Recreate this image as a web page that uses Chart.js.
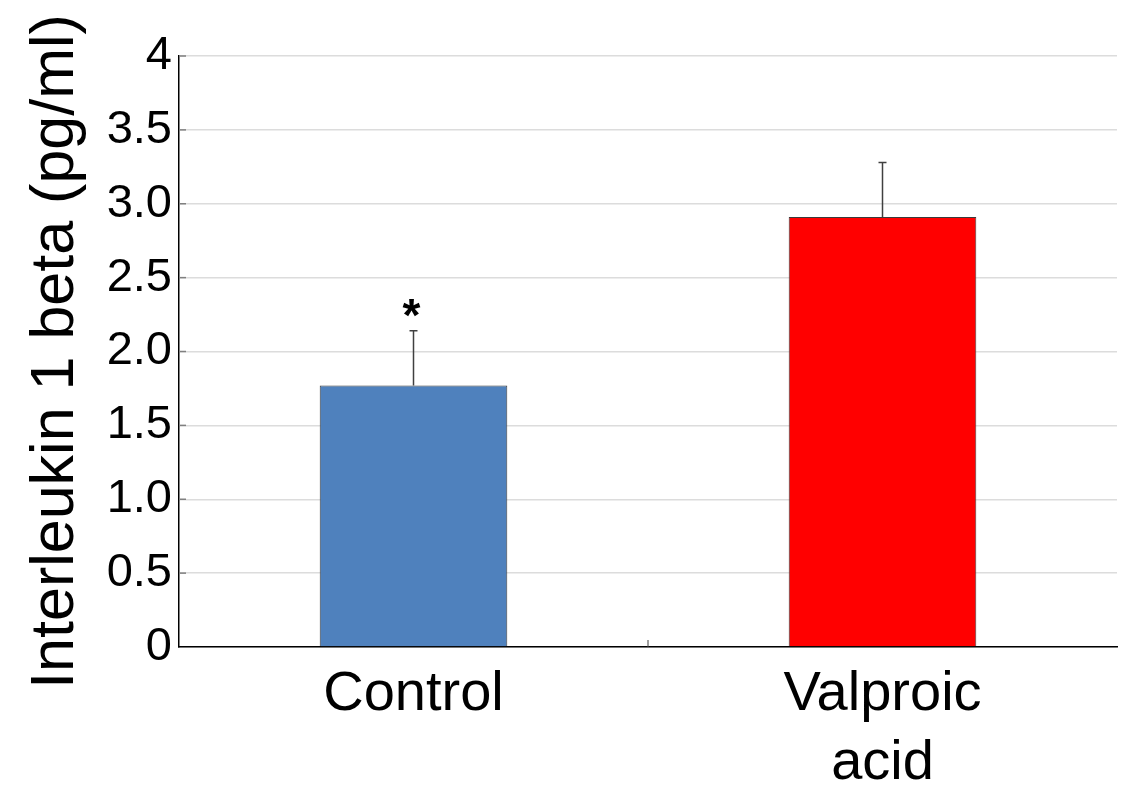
<!DOCTYPE html>
<html>
<head>
<meta charset="utf-8">
<script src="https://cdn.jsdelivr.net/npm/chart.js@4"></script>
<style>
  html, body { margin: 0; padding: 0; background: #fff; }
  #wrap { width: 1133px; height: 787px; }
</style>
</head>
<body>
<div id="wrap"><canvas id="chart"></canvas></div>
<script>
const categories = ["Control", ["Valproic", "acid"]];
const means = [1.77, 2.91];
const errors = [0.37, 0.37];
const barColors = ["#4F81BD", "#FF0000"];
const yTickLabels = ["0", "0.5", "1.0", "1.5", "2.0", "2.5", "3.0", "3.5", "4"];
const marks = ["*", ""];

// error bars, significance mark and small tick marks drawn inside the plot
const extras = {
  id: "extras",
  afterDatasetsDraw(chart) {
    const ctx = chart.ctx;
    const x = chart.scales.x;
    const y = chart.scales.y;
    const area = chart.chartArea;
    ctx.save();
    means.forEach((m, i) => {
      const cx = x.getPixelForValue(i);
      const y0 = y.getPixelForValue(m);
      const y1 = y.getPixelForValue(m + errors[i]);
      ctx.strokeStyle = "#404040";
      ctx.lineWidth = 1.5;
      ctx.beginPath();
      ctx.moveTo(cx, y0);
      ctx.lineTo(cx, y1);
      ctx.moveTo(cx - 4, y1);
      ctx.lineTo(cx + 4, y1);
      ctx.stroke();
      if (marks[i]) {
        ctx.fillStyle = "#000";
        ctx.font = "bold 46px 'Liberation Sans', Arial, sans-serif";
        ctx.textAlign = "center";
        ctx.textBaseline = "alphabetic";
        ctx.fillText(marks[i], cx - 2, y1);
      }
    });
    ctx.strokeStyle = "#808080";
    ctx.lineWidth = 1.5;
    y.ticks.forEach(t => {
      if (t.value === 0) return;
      const py = y.getPixelForValue(t.value);
      ctx.beginPath();
      ctx.moveTo(area.left, py);
      ctx.lineTo(area.left + 7, py);
      ctx.stroke();
    });
    const mid = (x.getPixelForValue(0) + x.getPixelForValue(1)) / 2;
    ctx.strokeStyle = "#404040";
    ctx.lineWidth = 1;
    ctx.beginPath();
    ctx.moveTo(mid, area.bottom);
    ctx.lineTo(mid, area.bottom - 7);
    ctx.stroke();
    ctx.restore();
  }
};

new Chart(document.getElementById("chart"), {
  type: "bar",
  data: {
    labels: categories,
    datasets: [{
      data: means,
      backgroundColor: barColors,
      borderColor: "#3a3a3a",
      borderWidth: 1,
      barPercentage: 0.4,
      categoryPercentage: 1.0
    }]
  },
  options: {
    responsive: true,
    maintainAspectRatio: false,
    animation: false,
    layout: { padding: { top: 56, right: 16, bottom: 0, left: 0 } },
    plugins: {
      legend: { display: false },
      tooltip: { enabled: false }
    },
    scales: {
      x: {
        grid: { display: false, drawTicks: false },
        border: { color: "#000", width: 1.5 },
        ticks: {
          color: "#000",
          padding: 13,
          font: { family: "'Liberation Sans', Arial, sans-serif", size: 56, lineHeight: 1.23 }
        },
        afterFit(s) { s.height = 140; }
      },
      y: {
        min: 0,
        max: 4,
        grid: { color: "#dcdcdc", lineWidth: 1.5, drawTicks: false },
        border: { color: "#000", width: 1.5 },
        ticks: {
          stepSize: 0.5,
          color: "#000",
          padding: 7,
          font: { family: "'Liberation Sans', Arial, sans-serif", size: 47 },
          callback: (v, i) => yTickLabels[i]
        },
        title: {
          display: true,
          text: "Interleukin 1 beta (pg/ml)",
          color: "#000",
          padding: { top: 20, bottom: 0 },
          font: { family: "'Liberation Sans', Arial, sans-serif", size: 61 }
        },
        afterFit(s) { s.width = 179; }
      }
    }
  },
  plugins: [extras]
});
</script>
</body>
</html>
